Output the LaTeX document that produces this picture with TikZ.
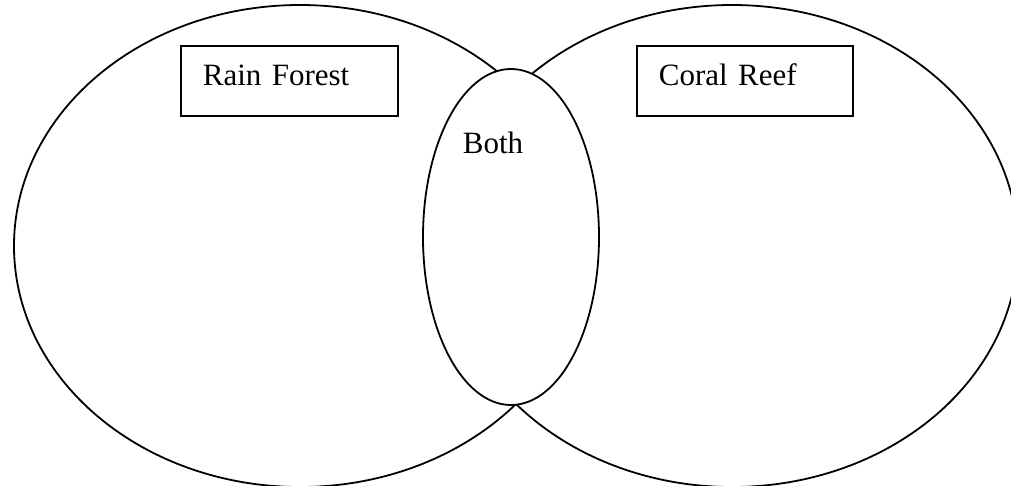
\documentclass[tikz,border=0pt]{standalone}
\usepackage{fontspec}
\setmainfont{Liberation Serif}
\usetikzlibrary{shapes.geometric,positioning}

\begin{document}
\begin{tikzpicture}[x=1pt,y=-1pt,
    region/.style={ellipse,draw,line width=1.8pt,inner sep=0pt},
    overlap/.style={region,fill=white},
    labelbox/.style={draw,line width=1.8pt,rectangle,anchor=north west,
        align=left,inner xsep=22pt,inner ysep=18pt,
        text height=22pt,text depth=12pt,
        font=\fontsize{31}{37}\selectfont}]
    \useasboundingbox (0,0) rectangle (1011,486);
    % the two habitats
    \node[region,minimum width=572pt,minimum height=482pt] (rainforest) at (300,246) {};
    \node[region,minimum width=572pt,minimum height=482pt] (coralreef) at (732,246) {};
    % shared part
    \node[overlap,minimum width=176pt,minimum height=336pt] (both) at (511,237) {};
    \node[anchor=base,font=\fontsize{31}{37}\selectfont]
        (bothtext) at ([xshift=-18pt,yshift=-85pt]both.north) {Both};
    % titles
    \node[labelbox,text width=173pt] (rainlabel) at (180,45) {Rain Forest};
    \node[labelbox,text width=172pt] (corallabel) at (636,45) {Coral Reef};
\end{tikzpicture}
\end{document}
